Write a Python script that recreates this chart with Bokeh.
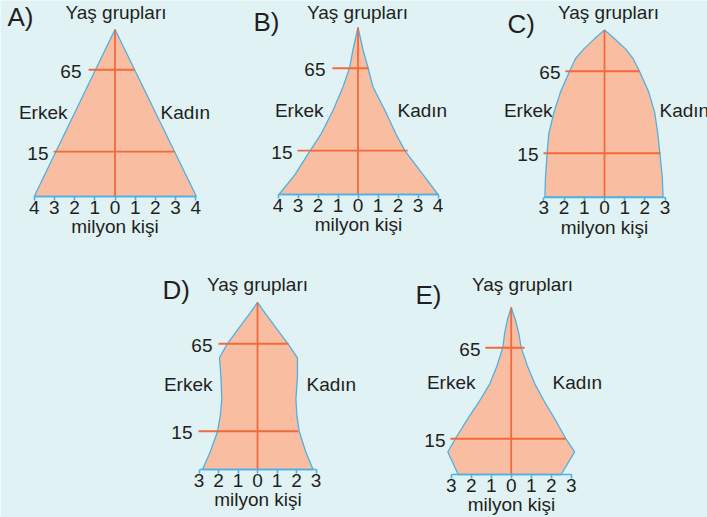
from bokeh.plotting import figure
from bokeh.models import Range1d, FixedTicker, LinearAxis
from bokeh.core.properties import value
from bokeh.embed import file_html
from bokeh.resources import INLINE

# ---------------- data (levels: relative height of the pyramid, 0 = base, 100 = apex;
#                  widths in million persons) ----------------
PANELS = ["A", "B", "C", "D", "E"]
AXIS_MAX = [4, 4, 3, 3, 3]
MARK_LABELS = ["15", "65"]

A_LEVELS = [0, 100]
A_ERKEK = [4.0, 0.0]
A_KADIN = [4.03, 0.0]
A_MARK_LEVELS = [26.9, 75.9]
A_MARK_LEFT = [-3.04, -1.31]
A_MARK_RIGHT = [2.95, 0.97]

B_LEVELS = [0, 11.9, 26.1, 36.2, 50.3, 64.4, 75.9, 86.7, 100]
B_ERKEK = [3.95, 3.15, 2.4, 1.85, 1.25, 0.75, 0.42, 0.25, 0]
B_KADIN = [4.0, 3.25, 2.35, 1.9, 1.35, 0.75, 0.5, 0.25, 0]
B_MARK_LEVELS = [26.3, 75.6]
B_MARK_LEFT = [-3.03, -1.28]
B_MARK_RIGHT = [2.48, 0.53]

C_LEVELS = [0, 11.9, 26.2, 37.8, 42.8, 50.8, 62.8, 75.3, 82.8, 88.7, 94.7, 100]
C_ERKEK = [2.95, 2.92, 2.84, 2.76, 2.66, 2.5, 2.18, 1.73, 1.44, 1.02, 0.5, 0]
C_KADIN = [2.9, 2.86, 2.74, 2.64, 2.58, 2.48, 2.19, 1.73, 1.42, 1.04, 0.5, 0]
C_MARK_LEVELS = [26.2, 75.3]
C_MARK_LEFT = [-3.02, -1.93]
C_MARK_RIGHT = [2.77, 1.73]

D_LEVELS = [0, 10.3, 22.8, 32.1, 42.1, 55.9, 66.9, 74.8, 87.7, 93.7, 100]
D_ERKEK = [2.82, 2.43, 2.05, 1.91, 1.83, 1.88, 1.95, 1.57, 0.77, 0.38, 0]
D_KADIN = [2.85, 2.48, 2.14, 2.02, 1.97, 2.05, 2.05, 1.59, 0.77, 0.39, 0]
D_MARK_LEVELS = [22.9, 75.3]
D_MARK_LEFT = [-3.03, -2.0]
D_MARK_RIGHT = [2.1, 1.59]

E_LEVELS = [0, 13.5, 21.7, 34.3, 44.3, 54.3, 64.3, 75.9, 84.3, 92.2, 100]
E_ERKEK = [2.65, 3.17, 2.78, 2.12, 1.57, 1.07, 0.73, 0.42, 0.33, 0.2, 0]
E_KADIN = [2.5, 3.17, 2.72, 2.13, 1.63, 1.18, 0.83, 0.5, 0.38, 0.22, 0]
E_MARK_LEVELS = [21.4, 75.9]
E_MARK_LEFT = [-3.04, -1.29]
E_MARK_RIGHT = [2.72, 0.67]

DATA = {
    "A": (A_LEVELS, A_ERKEK, A_KADIN, A_MARK_LEVELS, A_MARK_LEFT, A_MARK_RIGHT),
    "B": (B_LEVELS, B_ERKEK, B_KADIN, B_MARK_LEVELS, B_MARK_LEFT, B_MARK_RIGHT),
    "C": (C_LEVELS, C_ERKEK, C_KADIN, C_MARK_LEVELS, C_MARK_LEFT, C_MARK_RIGHT),
    "D": (D_LEVELS, D_ERKEK, D_KADIN, D_MARK_LEVELS, D_MARK_LEFT, D_MARK_RIGHT),
    "E": (E_LEVELS, E_ERKEK, E_KADIN, E_MARK_LEVELS, E_MARK_LEFT, E_MARK_RIGHT),
}

# ---------------- layout (pixel geometry of each panel inside the canvas) ----------------
W, H = 707, 517
# centre x of the axis, px per million, y of the base line
GEOM = {
    "A": (114.5, 20.2, 196),
    "B": (357.5, 20.0, 194),
    "C": (604, 20.2, 196.5),
    "D": (257, 19.5, 469),
    "E": (510.7, 20.0, 474),
}
K = 1.67  # px per level unit
# tag(left x, baseline), title(centre x, baseline), Erkek(right x, baseline),
# Kadin(left x, baseline), mark label right x [15, 65]
TEXTPOS = {
    "A": ((7, 24), (115.5, 17), (67, 117.5), (160, 117.5), (48, 81)),
    "B": ((253, 28.5), (357, 17), (323, 115.5), (397, 115.5), (292, 325)),
    "C": ((507, 31), (608, 17.5), (552, 115), (659, 115), (538, 560)),
    "D": ((162, 297), (257, 289.5), (212, 389.5), (306, 389.5), (192, 212)),
    "E": ((415, 302), (522, 289.5), (475, 387.5), (552, 387.5), (445, 480)),
}
FS = 19       # label font size, px
FS_TAG = 26   # panel letter font size, px
SHIFT = 0.28  # baseline correction, fraction of font size

BG = "#e0f2f3"
FILL = "#f9bea1"
RED = "#ef6a3d"
BLUE = "#4fb0e3"
TXT = "#231f20"
FONT = "Liberation Sans"

p = figure(width=W, height=H, output_backend="svg", toolbar_location=None,
           x_range=Range1d(0, W), y_range=Range1d(H, 0),
           x_axis_location=None, y_axis_location=None, min_border=0,
           background_fill_color=BG, border_fill_color=BG,
           outline_line_color=None)
p.xgrid.visible = False
p.ygrid.visible = False


def add_panel(name, nmax):
    levels, erkek, kadin, mlev, mleft, mright = DATA[name]
    cx, spm, base = GEOM[name]
    px2x = lambda px: (px - cx) / spm
    py2y = lambda py, fs=FS: (base - (py - SHIFT * fs)) / K
    p.extra_x_ranges[name] = Range1d(px2x(0), px2x(W))
    p.extra_y_ranges[name] = Range1d((base - H) / K, base / K)
    rn = dict(x_range_name=name, y_range_name=name)

    xs = [-e for e in erkek] + list(reversed(kadin))
    ys = list(levels) + list(reversed(levels))
    p.patch(xs, ys, fill_color=FILL, line_color=BLUE, line_width=1.3, **rn)

    # age group lines and the central axis
    p.segment(x0=mleft, y0=mlev, x1=mright, y1=mlev, line_color=RED, line_width=1.8, **rn)
    p.segment(x0=[0], y0=[0], x1=[0], y1=[max(levels)], line_color=RED, line_width=1.8, **rn)

    tag, title, erk, kad, mlx = TEXTPOS[name]
    common = dict(text_font=value(FONT), text_color=TXT, text_baseline="alphabetic", **rn)
    fs = f"{FS}px"
    p.text(x=[px2x(tag[0])], y=[py2y(tag[1], FS_TAG)], text=[name + ")"], text_align="left",
           text_font_size=f"{FS_TAG}px", **common)
    p.text(x=[px2x(title[0])], y=[py2y(title[1])], text=["Yaş grupları"], text_align="center",
           text_font_size=fs, **common)
    p.text(x=[px2x(erk[0])], y=[py2y(erk[1])], text=["Erkek"], text_align="right",
           text_font_size=fs, **common)
    p.text(x=[px2x(kad[0])], y=[py2y(kad[1])], text=["Kadın"], text_align="left",
           text_font_size=fs, **common)
    p.text(x=[px2x(v) for v in mlx],
           y=[lv - (0.358 - SHIFT) * FS / K for lv in mlev], text=MARK_LABELS,
           text_align="right", text_font_size=fs, **common)

    ax = LinearAxis(x_range_name=name, y_range_name=name, fixed_location=0,
                    bounds=(-nmax, nmax),
                    ticker=FixedTicker(ticks=list(range(-nmax, nmax + 1))),
                    major_label_overrides={i: str(abs(i)) for i in range(-nmax, nmax + 1)},
                    axis_line_color=BLUE, axis_line_width=1.6,
                    major_tick_line_color=BLUE, major_tick_line_width=1.6,
                    major_tick_out=4, major_tick_in=0, minor_tick_line_color=None,
                    major_label_text_font=FONT, major_label_text_font_size=fs,
                    major_label_text_color=TXT, major_label_standoff=0,
                    axis_label="milyon kişi", axis_label_text_font=FONT,
                    axis_label_text_font_size=fs, axis_label_text_font_style="normal",
                    axis_label_text_color=TXT, axis_label_standoff=-1)
    p.add_layout(ax, "below")


for n, m in zip(PANELS, AXIS_MAX):
    add_panel(n, m)

open("out.html", "w").write(file_html(p, INLINE))
